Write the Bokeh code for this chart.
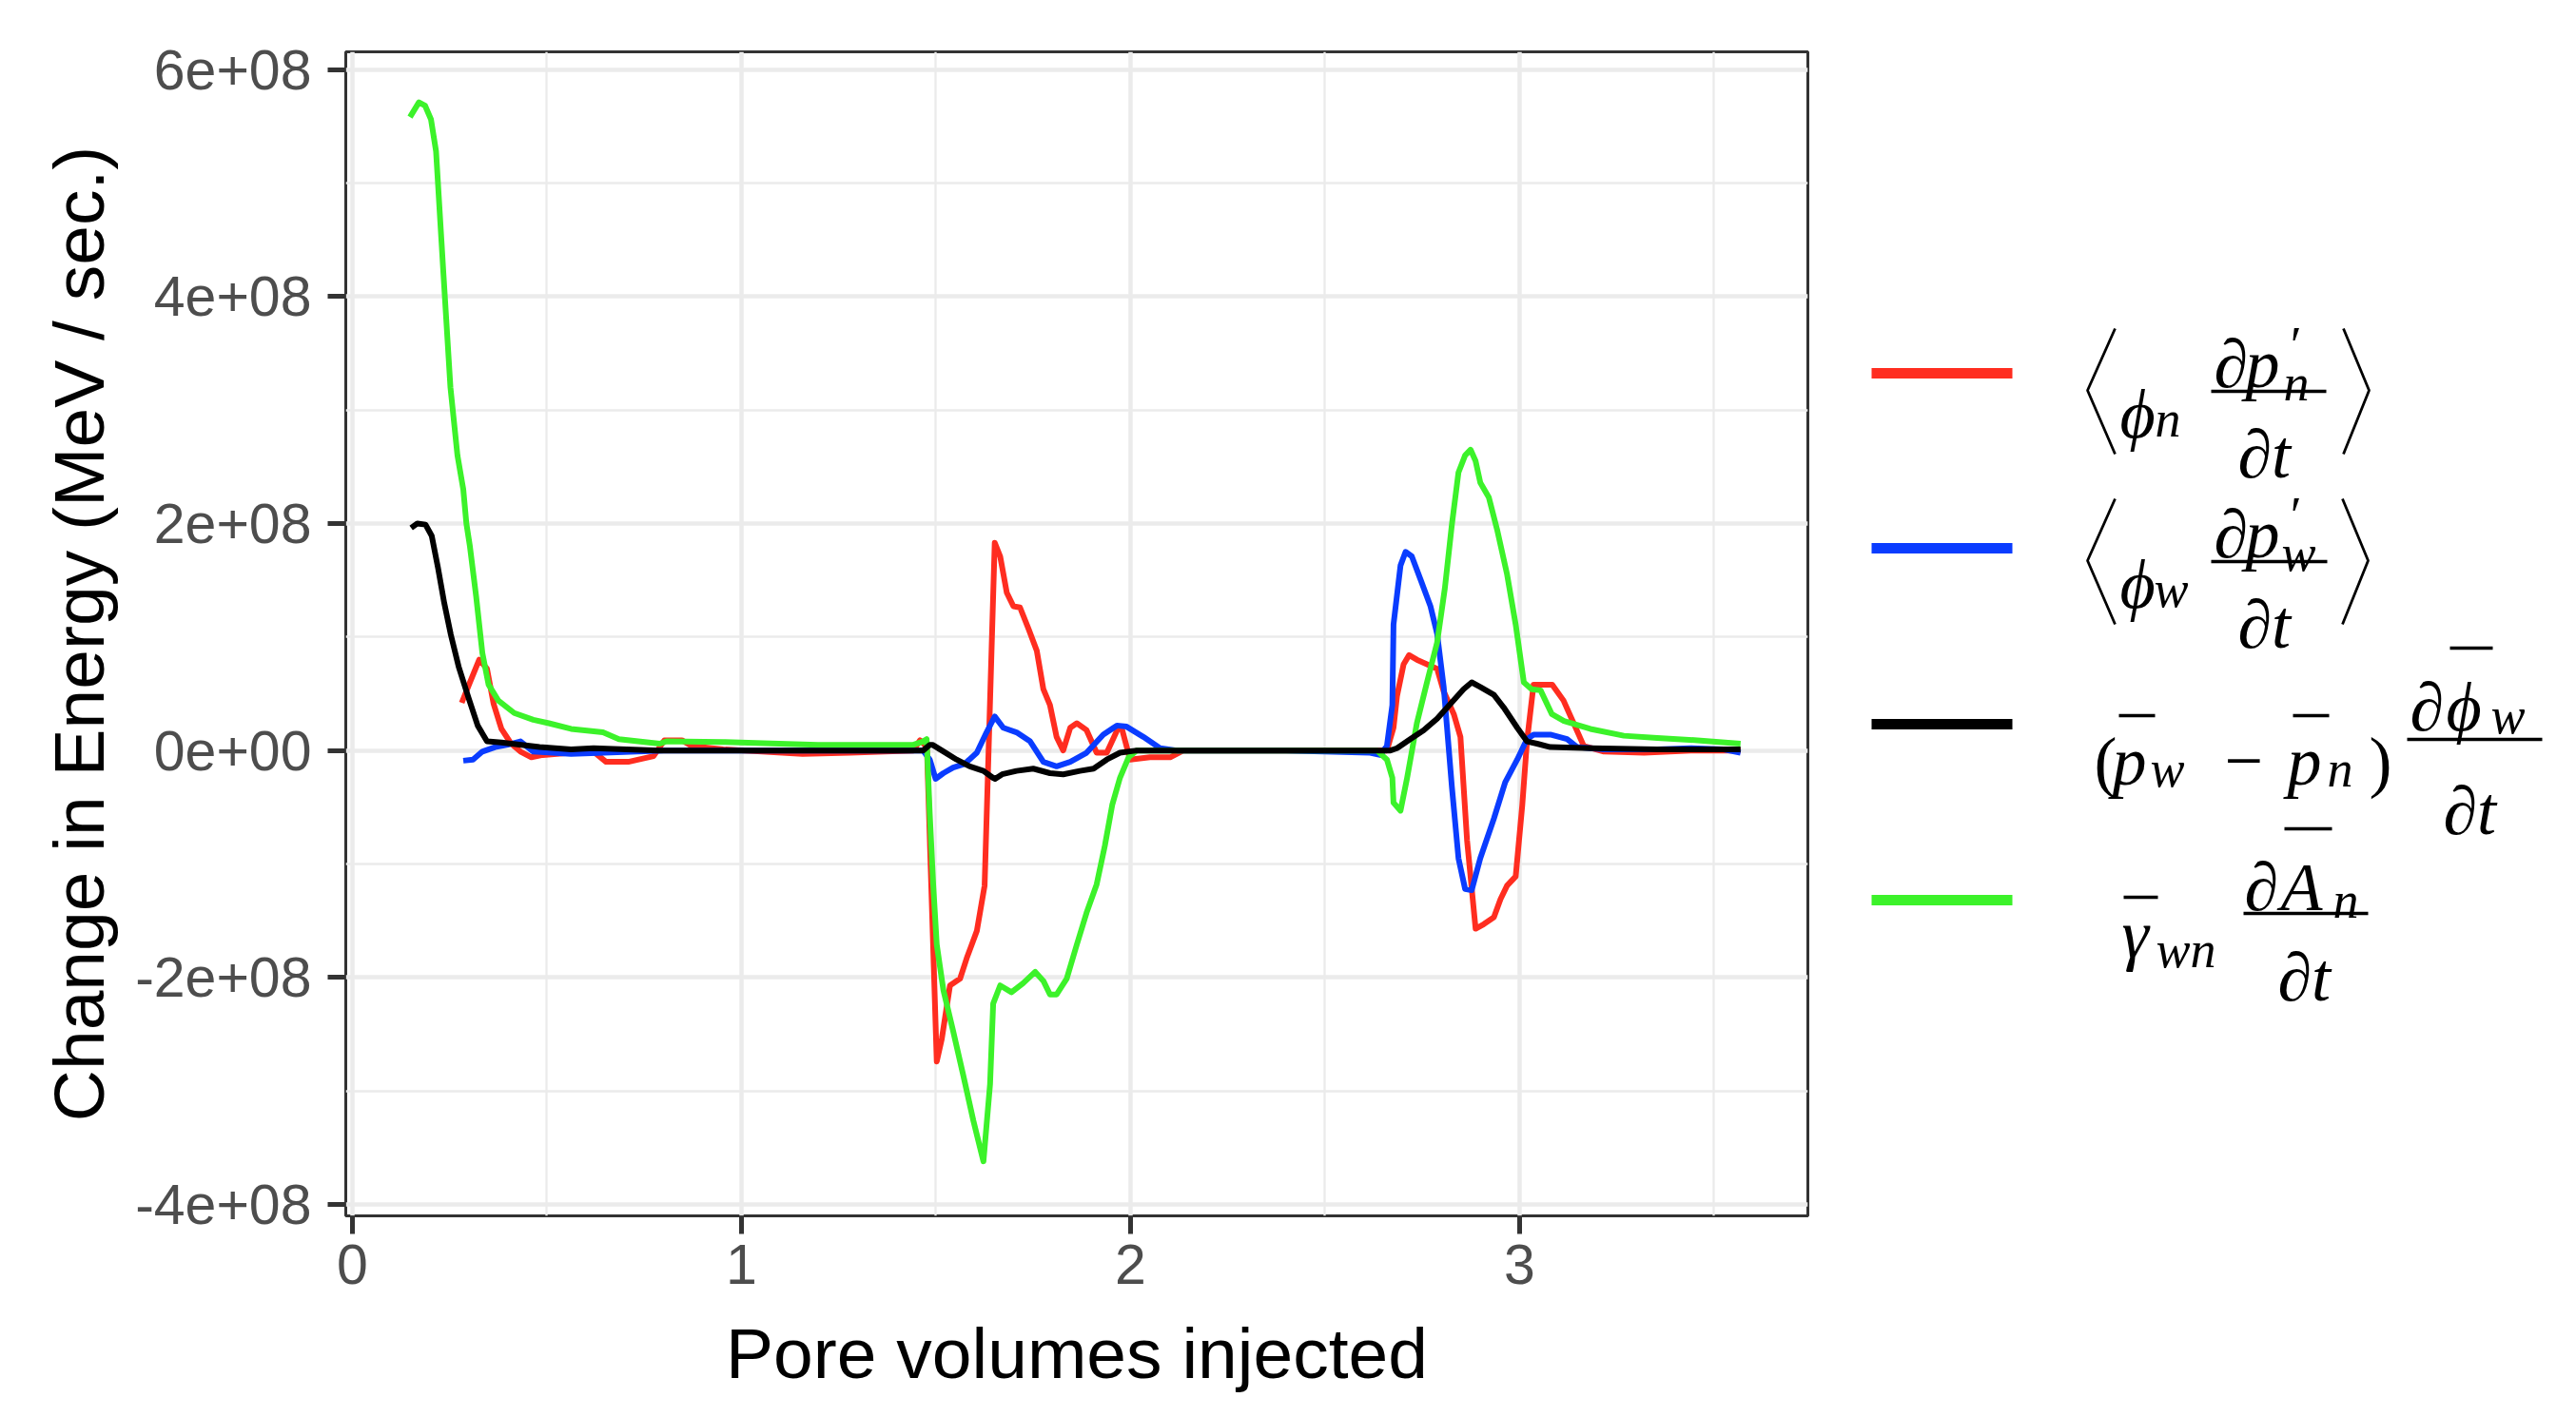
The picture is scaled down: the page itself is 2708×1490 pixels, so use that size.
import numpy as np
from bokeh.plotting import figure
from bokeh.models import Range1d, FixedTicker, ColumnDataSource
from bokeh.layouts import row
from bokeh.core.properties import value
from bokeh.embed import file_html
from bokeh.resources import INLINE

# ---------------- data (y in units of 1e8 MeV/sec) ----------------
red_x = [0.281, 0.302, 0.326, 0.346, 0.363, 0.383, 0.408, 0.432, 0.460, 0.489, 0.562, 0.620,
         0.652, 0.709, 0.774, 0.802, 0.847, 0.872, 0.953, 1.157, 1.280, 1.442, 1.459, 1.471,
         1.477, 1.502, 1.515, 1.536, 1.562, 1.579, 1.605, 1.625, 1.651, 1.665, 1.682, 1.699,
         1.716, 1.738, 1.759, 1.776, 1.793, 1.810, 1.827, 1.845, 1.862, 1.887, 1.913, 1.939,
         1.970, 1.978, 1.999, 2.050, 2.102, 2.136, 2.400, 2.633, 2.659, 2.676, 2.685, 2.702,
         2.716, 2.736, 2.762, 2.788, 2.805, 2.831, 2.848, 2.865, 2.887, 2.908, 2.934, 2.951,
         2.968, 2.990, 3.007, 3.019, 3.036, 3.062, 3.084, 3.113, 3.139, 3.165, 3.217, 3.320,
         3.440, 3.568]
red_y = [0.42, 0.60, 0.80, 0.72, 0.41, 0.19, 0.06, -0.01, -0.06, -0.04, -0.02, -0.01,
         -0.10, -0.10, -0.05, 0.09, 0.09, 0.04, 0.01, -0.03, -0.02, 0.00, 0.09, 0.05,
         0.00, -2.74, -2.54, -2.07, -2.01, -1.83, -1.59, -1.19, 1.83, 1.71, 1.39, 1.27,
         1.26, 1.07, 0.88, 0.54, 0.40, 0.12, 0.00, 0.20, 0.24, 0.18, -0.02, -0.02,
         0.21, 0.19, -0.08, -0.06, -0.06, 0.00, 0.00, 0.00, 0.00, 0.20, 0.48, 0.76,
         0.84, 0.80, 0.76, 0.72, 0.52, 0.32, 0.12, -0.79, -1.57, -1.53, -1.47, -1.31,
         -1.19, -1.11, -0.48, 0.08, 0.58, 0.58, 0.58, 0.44, 0.24, 0.04, -0.01, -0.02,
         0.00, 0.00]

blue_x = [0.285, 0.310, 0.334, 0.367, 0.399, 0.432, 0.465, 0.562, 0.800, 1.100, 1.467, 1.484,
          1.499, 1.519, 1.544, 1.573, 1.605, 1.630, 1.651, 1.673, 1.707, 1.742, 1.776, 1.810,
          1.845, 1.887, 1.930, 1.965, 1.990, 2.033, 2.076, 2.119, 2.400, 2.616, 2.642, 2.659,
          2.673, 2.676, 2.694, 2.707, 2.723, 2.745, 2.771, 2.788, 2.805, 2.826, 2.843, 2.860,
          2.877, 2.899, 2.934, 2.963, 2.994, 3.019, 3.036, 3.079, 3.122, 3.148, 3.217, 3.354,
          3.440, 3.525, 3.568]
blue_y = [-0.09, -0.08, -0.01, 0.03, 0.05, 0.08, -0.01, -0.03, 0.00, 0.00, 0.00, -0.08,
          -0.25, -0.20, -0.15, -0.12, -0.02, 0.16, 0.30, 0.20, 0.16, 0.08, -0.10, -0.14,
          -0.10, -0.02, 0.14, 0.22, 0.21, 0.12, 0.02, 0.00, 0.00, -0.02, -0.04, 0.04,
          0.40, 1.11, 1.63, 1.75, 1.71, 1.51, 1.27, 1.03, 0.56, -0.32, -0.95, -1.22,
          -1.23, -0.95, -0.60, -0.28, -0.08, 0.10, 0.14, 0.14, 0.10, 0.03, 0.01, 0.01,
          0.02, 0.01, -0.02]

black_x = [0.151, 0.167, 0.188, 0.204, 0.220, 0.236, 0.253, 0.273, 0.298, 0.322, 0.346, 0.383,
           0.481, 0.562, 0.620, 0.790, 1.000, 1.300, 1.467, 1.484, 1.491, 1.515, 1.553, 1.587,
           1.622, 1.646, 1.652, 1.670, 1.707, 1.750, 1.793, 1.827, 1.870, 1.905, 1.939, 1.973,
           2.016, 2.400, 2.668, 2.685, 2.719, 2.754, 2.788, 2.822, 2.856, 2.877, 2.899, 2.934,
           2.959, 2.994, 3.019, 3.045, 3.079, 3.182, 3.354, 3.568]
black_y = [1.96, 2.00, 1.99, 1.89, 1.61, 1.30, 1.02, 0.74, 0.47, 0.22, 0.08, 0.07,
           0.03, 0.01, 0.02, 0.00, 0.00, 0.00, 0.00, 0.05, 0.05, 0.00, -0.08, -0.14,
           -0.18, -0.24, -0.25, -0.21, -0.18, -0.16, -0.20, -0.21, -0.18, -0.16, -0.08, -0.02,
           0.00, 0.00, 0.00, 0.02, 0.10, 0.18, 0.28, 0.41, 0.54, 0.60, 0.56, 0.49,
           0.38, 0.20, 0.08, 0.06, 0.03, 0.02, 0.01, 0.01]

green_x = [0.148, 0.171, 0.187, 0.202, 0.215, 0.234, 0.252, 0.270, 0.285, 0.293, 0.302, 0.318,
           0.334, 0.350, 0.375, 0.416, 0.465, 0.505, 0.562, 0.644, 0.685, 0.790, 0.807, 0.953,
           1.197, 1.442, 1.467, 1.476, 1.484, 1.493, 1.502, 1.519, 1.544, 1.570, 1.596, 1.622,
           1.639, 1.647, 1.665, 1.694, 1.724, 1.755, 1.776, 1.793, 1.810, 1.836, 1.862, 1.887,
           1.913, 1.934, 1.953, 1.973, 1.995, 2.016, 2.400, 2.633, 2.659, 2.673, 2.676, 2.694,
           2.711, 2.736, 2.762, 2.788, 2.808, 2.826, 2.843, 2.860, 2.874, 2.887, 2.899, 2.921,
           2.942, 2.968, 2.990, 3.011, 3.031, 3.054, 3.083, 3.114, 3.182, 3.268, 3.354, 3.457,
           3.568]
green_y = [5.58, 5.71, 5.68, 5.56, 5.28, 4.20, 3.20, 2.60, 2.30, 2.00, 1.80, 1.36,
           0.86, 0.58, 0.44, 0.33, 0.27, 0.24, 0.19, 0.16, 0.10, 0.06, 0.08, 0.075,
           0.05, 0.05, 0.08, 0.10, -0.56, -1.19, -1.71, -2.11, -2.47, -2.86, -3.26, -3.62,
           -2.94, -2.23, -2.07, -2.13, -2.05, -1.95, -2.03, -2.15, -2.15, -2.01, -1.71, -1.43,
           -1.18, -0.84, -0.48, -0.24, -0.06, 0.00, 0.00, 0.00, -0.08, -0.24, -0.46, -0.53,
           -0.24, 0.24, 0.60, 0.95, 1.43, 1.99, 2.45, 2.60, 2.65, 2.55, 2.36, 2.23,
           1.95, 1.55, 1.11, 0.60, 0.54, 0.53, 0.32, 0.26, 0.19, 0.13, 0.11, 0.09,
           0.06]

series_colors = ["#FF2D20", "#0A3CFF", "#3CF22A", "#000000"]
x_ticks = [0, 1, 2, 3]
x_minor = [0.5, 1.5, 2.5, 3.5]
y_ticks = [-4e8, -2e8, 0.0, 2e8, 4e8, 6e8]
y_minor = [-3e8, -1e8, 1e8, 3e8, 5e8]
y_tick_labels = ["-4e+08", "-2e+08", "0e+00", "2e+08", "4e+08", "6e+08"]
x_title = "Pore volumes injected"
y_title = "Change in Energy (MeV / sec.)"

SCALE = 1e8

# page geometry (pixels)
FIG_H = 1490
MAIN_W = 1950
LEG_W = 758
B_TOP, B_BOTTOM = 54, FIG_H - 1278

# ---------------- main panel ----------------
p = figure(width=MAIN_W, height=FIG_H,
           x_range=Range1d(-0.017, 3.741), y_range=Range1d(-4.10e8, 6.155e8),
           output_backend="svg", toolbar_location=None,
           min_border_left=363, min_border_right=50, min_border_top=B_TOP,
           min_border_bottom=B_BOTTOM)
p.background_fill_color = "white"
p.border_fill_color = "white"
p.outline_line_color = "#333333"
p.outline_line_width = 3

p.xaxis.ticker = FixedTicker(ticks=x_ticks, minor_ticks=x_minor)
p.yaxis.ticker = FixedTicker(ticks=y_ticks, minor_ticks=y_minor)
p.yaxis.major_label_overrides = {t: s for t, s in zip(y_ticks, y_tick_labels)}

for ax in (p.xaxis[0], p.yaxis[0]):
    ax.axis_line_color = None
    ax.major_tick_in = 0
    ax.major_tick_out = 19
    ax.major_tick_line_width = 5
    ax.major_tick_line_color = "#333333"
    ax.minor_tick_line_color = None
    ax.major_label_text_font = "Liberation Sans"
    ax.major_label_text_font_size = "59px"
    ax.major_label_text_color = "#4D4D4D"
    ax.axis_label_text_font = "Liberation Sans"
    ax.axis_label_text_font_size = "75px"
    ax.axis_label_text_font_style = "normal"
    ax.axis_label_text_color = "#000000"

p.xaxis.axis_label = x_title
p.yaxis.axis_label = y_title
p.xaxis.major_label_standoff = 11
p.xaxis.axis_label_standoff = 28
p.yaxis.major_label_standoff = 17
p.yaxis.axis_label_standoff = 14

for g in (p.xgrid[0], p.ygrid[0]):
    g.grid_line_color = "#EBEBEB"
    g.grid_line_width = 4.5
    g.minor_grid_line_color = "#EBEBEB"
    g.minor_grid_line_width = 2.3

all_series = [(red_x, red_y), (blue_x, blue_y), (green_x, green_y), (black_x, black_y)]
for (xs, ys), col in zip(all_series, series_colors):
    src = ColumnDataSource(dict(x=xs, y=np.array(ys) * SCALE))
    p.line("x", "y", source=src, line_color=col, line_width=6, line_join="round")

# ---------------- legend (math labels drawn as pieces, page-pixel coordinates) ----------------
leg = figure(width=LEG_W, height=FIG_H,
             x_range=Range1d(MAIN_W, MAIN_W + LEG_W), y_range=Range1d(1278, B_TOP),
             output_backend="svg", toolbar_location=None,
             min_border_left=0, min_border_right=0, min_border_top=B_TOP,
             min_border_bottom=B_BOTTOM,
             x_axis_location=None, y_axis_location=None)
leg.outline_line_color = None
leg.grid.visible = False
leg.background_fill_color = "white"
leg.border_fill_color = "white"

key_colors = ["#FF2D20", "#0A3CFF", "#000000", "#3CF22A"]
key_y = [392, 576, 761, 946]
for c, ky in zip(key_colors, key_y):
    leg.segment(x0=[1967], y0=[ky], x1=[2115], y1=[ky], line_color=c, line_width=11)

MAIN = "72px"
SUB = "54px"
big = dict(text=["ϕ", "∂", "p", "∂t",
                 "ϕ", "∂", "p", "∂t",
                 "p", "p", "∂", "ϕ", "∂t",
                 "γ", "∂", "A", "∂t"],
           x=[2228, 2327, 2360, 2352,
              2228, 2327, 2360, 2352,
              2220, 2404, 2533, 2571, 2568,
              2230, 2359, 2397, 2394],
           y=[435, 382, 382, 477,
              614, 561, 561, 656,
              800, 800, 743, 743, 852,
              982, 932, 932, 1027])
leg.text("x", "y", text="text", source=ColumnDataSource(big),
         text_font=value("Liberation Serif"), text_font_style="italic",
         text_font_size=value(MAIN), text_color="black",
         text_align="left", text_baseline="alphabetic")

small = dict(text=["n", "′", "n",
                   "w", "′", "w",
                   "w", "n", "w",
                   "wn", "n"],
             x=[2265, 2404, 2400,
                2264, 2404, 2398,
                2260, 2446, 2618,
                2266, 2452],
             y=[440, 362, 402,
                619, 541, 581,
                808, 808, 752,
                998, 946])
leg.text("x", "y", text="text", source=ColumnDataSource(small),
         text_font=value("Liberation Serif"), text_font_style="italic",
         text_font_size=value(SUB), text_color="black",
         text_align="left", text_baseline="alphabetic")

upright = dict(text=["(", "−", ")"], x=[2201, 2338, 2490], y=[800, 800, 800])
leg.text("x", "y", text="text", source=ColumnDataSource(upright),
         text_font=value("Liberation Serif"), text_font_style="normal",
         text_font_size=value(MAIN), text_color="black",
         text_align="left", text_baseline="alphabetic")

# fraction bars and overbars
bars_x0 = [2324, 2324, 2530, 2358, 2227, 2410, 2575, 2232, 2401]
bars_x1 = [2445, 2446, 2672, 2489, 2265, 2448, 2620, 2268, 2451]
bars_y = [411, 590, 777, 960, 752, 752, 681, 943, 871]
leg.segment(x0=bars_x0, y0=bars_y, x1=bars_x1, y1=bars_y, line_color="black", line_width=3.5)

# angle brackets
br_xs = [[2223, 2194, 2223], [2463, 2490, 2463], [2223, 2194, 2223], [2462, 2489, 2462]]
br_ys = [[345, 410, 477], [345, 410, 477], [524, 589, 656], [524, 589, 656]]
leg.multi_line(xs=br_xs, ys=br_ys, line_color="black", line_width=2.8)

layout = row(p, leg)
open("out.html", "w").write(file_html(layout, INLINE))
